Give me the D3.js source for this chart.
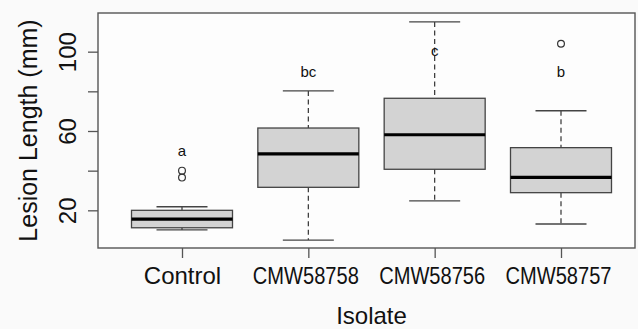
<!DOCTYPE html>
<html>
<head>
<meta charset="utf-8">
<script src="https://cdn.jsdelivr.net/npm/d3@7"></script>
<style>
  body { margin: 0; background: #fafafa; }
  svg { display: block; font-family: "Liberation Sans", Arial, sans-serif; }
</style>
</head>
<body>
<div id="chart"></div>
<script>
// data
const isolates = ["Control", "CMW58758", "CMW58756", "CMW58757"];
const lowerWhisker = [10.1, 5, 24.8, 13.1];
const q1 = [11.2, 31.6, 40.7, 28.9];
const medians = [15.6, 48.5, 58.1, 36.6];
const q3 = [20, 61.5, 76.5, 51.6];
const upperWhisker = [21.8, 80.2, 115, 70.2];
const outliers = [[40, 36.5], [], [], [104]];
const groupLetters = ["a", "bc", "c", "b"];
const letterY = [47.6, 87.2, 97.8, 87.1];
const yTicks = [20, 40, 60, 80, 100];
const yTickLabels = [20, 60, 100];

const W = 638, H = 329;
const margin = { top: 13, right: 3, bottom: 81, left: 98 };
const width = W - margin.left - margin.right;
const height = H - margin.top - margin.bottom;

const svg = d3.select("#chart")
    .append("svg")
    .attr("width", W)
    .attr("height", H);

const g = svg.append("g")
    .attr("transform", `translate(${margin.left},${margin.top})`);

const x = d3.scalePoint()
    .domain(isolates)
    .range([84, 463]);

const y = d3.scaleLinear()
    .domain([1, 119.5])
    .range([height, 0]);

const boxW = 101;
const capW = 51;

const data = isolates.map((name, i) => ({
    name,
    lo: lowerWhisker[i], q1: q1[i], med: medians[i], q3: q3[i], hi: upperWhisker[i],
    out: outliers[i], letter: groupLetters[i], ly: letterY[i]
}));

// plot area
g.append("rect")
    .attr("width", width)
    .attr("height", height)
    .attr("fill", "#fdfdfd");

const boxes = g.selectAll(".box")
    .data(data)
    .enter()
    .append("g")
    .attr("class", "box")
    .attr("transform", d => `translate(${x(d.name)},0)`);

// whiskers (dashed)
boxes.append("line")
    .attr("y1", d => y(d.hi)).attr("y2", d => y(d.q3))
    .attr("stroke", "#333").attr("stroke-width", 1.2)
    .attr("stroke-dasharray", "5,3.5");
boxes.append("line")
    .attr("y1", d => y(d.q1)).attr("y2", d => y(d.lo))
    .attr("stroke", "#333").attr("stroke-width", 1.2)
    .attr("stroke-dasharray", "5,3.5");

// caps
boxes.append("line")
    .attr("x1", -capW / 2).attr("x2", capW / 2)
    .attr("y1", d => y(d.hi)).attr("y2", d => y(d.hi))
    .attr("stroke", "#444").attr("stroke-width", 1.3);
boxes.append("line")
    .attr("x1", -capW / 2).attr("x2", capW / 2)
    .attr("y1", d => y(d.lo)).attr("y2", d => y(d.lo))
    .attr("stroke", "#444").attr("stroke-width", 1.3);

// boxes
boxes.append("rect")
    .attr("x", -boxW / 2)
    .attr("width", boxW)
    .attr("y", d => y(d.q3))
    .attr("height", d => y(d.q1) - y(d.q3))
    .attr("fill", "#d3d3d3")
    .attr("stroke", "#444")
    .attr("stroke-width", 1.3);

// medians
boxes.append("line")
    .attr("x1", -boxW / 2).attr("x2", boxW / 2)
    .attr("y1", d => y(d.med)).attr("y2", d => y(d.med))
    .attr("stroke", "#000").attr("stroke-width", 3.2);

// outliers
boxes.selectAll("circle")
    .data(d => d.out)
    .enter()
    .append("circle")
    .attr("cy", v => y(v))
    .attr("r", 3.4)
    .attr("fill", "none")
    .attr("stroke", "#333")
    .attr("stroke-width", 1.2);

// significance letters
boxes.append("text")
    .attr("y", d => y(d.ly))
    .attr("text-anchor", "middle")
    .attr("font-size", 15)
    .attr("fill", "#111")
    .text(d => d.letter);

// frame
g.append("rect")
    .attr("width", width)
    .attr("height", height)
    .attr("fill", "none")
    .attr("stroke", "#555")
    .attr("stroke-width", 1.4);

// y axis
const yAxis = g.append("g")
    .call(d3.axisLeft(y)
        .tickValues(yTicks)
        .tickSize(10)
        .tickFormat(d => yTickLabels.includes(d) ? d : ""));
yAxis.select(".domain").remove();
yAxis.selectAll("line").attr("stroke", "#555").attr("stroke-width", 1.3);
yAxis.selectAll("text")
    .attr("transform", "rotate(-90)")
    .attr("x", 0)
    .attr("y", -22)
    .attr("dy", 0)
    .attr("text-anchor", "middle")
    .attr("font-size", 24)
    .attr("font-family", "Liberation Sans, Arial, sans-serif")
    .attr("fill", "#111");

// x axis
const xAxis = g.append("g")
    .attr("transform", `translate(0,${height})`)
    .call(d3.axisBottom(x).tickSize(10));
xAxis.select(".domain").remove();
xAxis.selectAll("line").attr("stroke", "#555").attr("stroke-width", 1.3);
xAxis.selectAll("text")
    .attr("y", 36)
    .attr("dy", 0)
    .attr("font-size", 24)
    .attr("font-family", "Liberation Sans, Arial, sans-serif")
    .attr("fill", "#111")
    .each(function (d) {
        if (d !== "Control") {
            d3.select(this)
                .attr("x", -3)
                .attr("textLength", 106)
                .attr("lengthAdjust", "spacingAndGlyphs");
        }
    });

// axis titles
svg.append("text")
    .attr("transform", `translate(37,${margin.top + height / 2}) rotate(-90)`)
    .attr("text-anchor", "middle")
    .attr("font-size", 25)
    .attr("fill", "#111")
    .text("Lesion Length (mm)");

svg.append("text")
    .attr("x", margin.left + (x(isolates[0]) + x(isolates[3])) / 2)
    .attr("y", 324)
    .attr("text-anchor", "middle")
    .attr("font-size", 24)
    .attr("fill", "#111")
    .text("Isolate");
</script>
</body>
</html>
